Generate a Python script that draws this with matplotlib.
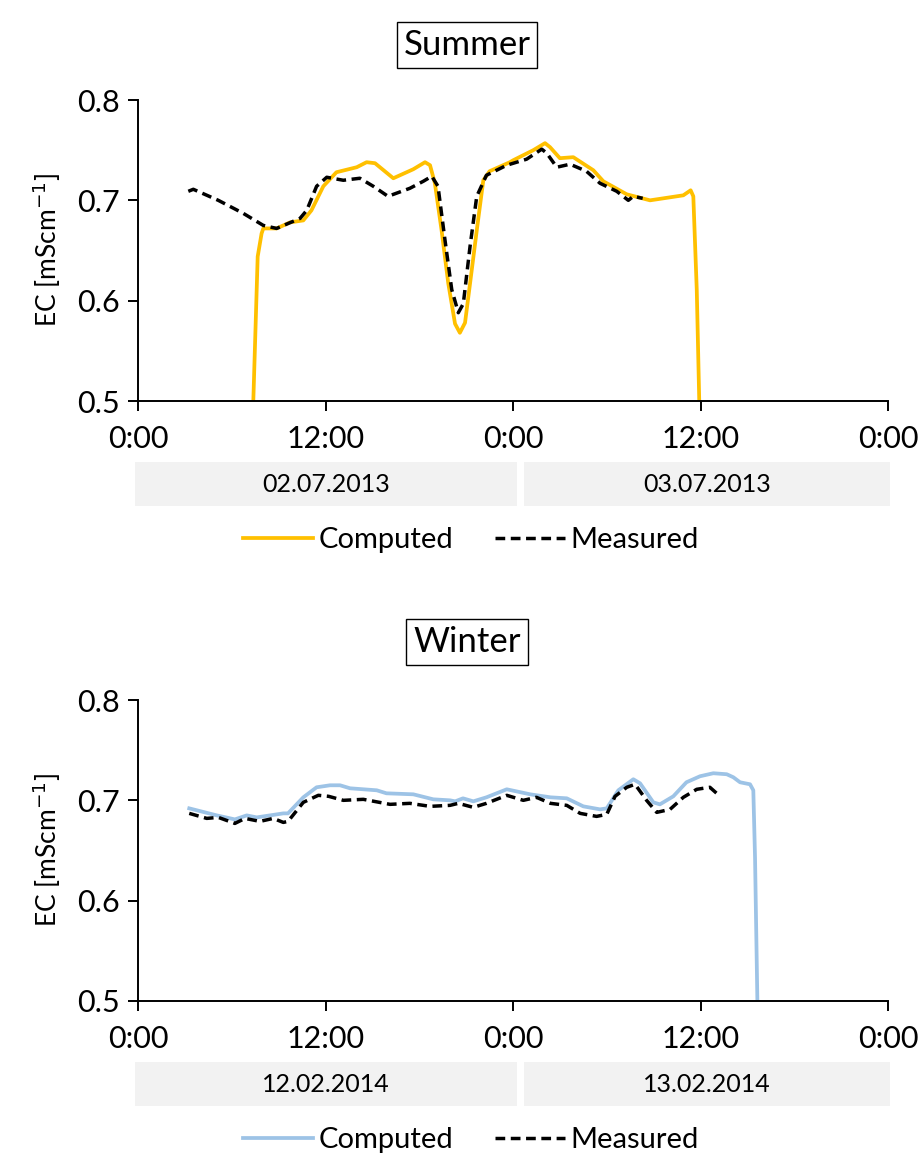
import matplotlib
matplotlib.use("Agg")
import matplotlib.pyplot as plt
from matplotlib import transforms
from matplotlib.patches import Rectangle

plt.rcParams['font.family'] = ['Lato', 'DejaVu Sans']

# hours since 0:00 of the first day, EC in mS/cm
summer_comp_h = [7.38, 7.66, 7.91, 8.02, 8.87, 9.73, 10.58, 11.1, 11.86, 12.7, 14.0, 14.63, 15.17,
                 16.34, 17.62, 18.37, 18.69, 19.0, 19.43, 19.86, 20.29, 20.6, 20.93, 21.25, 21.68,
                 22.1, 22.5, 23.8, 24.02, 25.3, 26.05, 26.37, 27.0, 27.86, 29.14, 29.78, 31.28,
                 32.77, 34.05, 34.9, 35.37, 35.54, 35.76, 35.92]
summer_comp_v = [0.500, 0.644, 0.667, 0.672, 0.672, 0.678, 0.680, 0.690, 0.714, 0.728, 0.733, 0.738, 0.737,
                 0.722, 0.731, 0.738, 0.735, 0.717, 0.670, 0.617, 0.577, 0.568, 0.578, 0.617, 0.670,
                 0.720, 0.729, 0.738, 0.740, 0.750, 0.757, 0.753, 0.742, 0.743, 0.730, 0.719, 0.706,
                 0.700, 0.703, 0.705, 0.710, 0.704, 0.611, 0.500]
summer_meas_h = [3.22, 3.54, 5.14, 6.74, 8.02, 8.87, 10.37, 10.8, 11.43, 12.08, 13.14, 14.2, 15.06,
                 16.0, 17.4, 18.26, 18.8, 19.2, 19.65, 20.08, 20.5, 20.82, 21.25, 21.68, 22.3, 23.6,
                 24.87, 25.84, 26.16, 26.8, 27.65, 28.7, 29.57, 30.64, 31.38, 31.7, 32.3]
summer_meas_v = [0.709, 0.711, 0.700, 0.687, 0.675, 0.672, 0.682, 0.690, 0.714, 0.723, 0.720, 0.722, 0.714,
                 0.704, 0.712, 0.719, 0.724, 0.714, 0.660, 0.611, 0.588, 0.597, 0.654, 0.704, 0.725, 0.735,
                 0.741, 0.751, 0.747, 0.733, 0.736, 0.729, 0.717, 0.709, 0.700, 0.704, 0.702]

winter_comp_h = [3.28, 5.04, 6.2, 6.96, 7.6, 8.45, 9.3, 9.6, 10.58, 11.43, 12.29, 12.93, 13.57, 15.28,
                 15.9, 17.62, 18.9, 19.97, 20.3, 20.8, 21.46, 22.3, 23.6, 24.2, 25.1, 26.4, 27.44, 28.5,
                 29.57, 30.0, 30.74, 31.7, 32.13, 32.98, 33.4, 34.26, 35.1, 35.97, 36.82, 37.68, 38.1,
                 38.53, 39.17, 39.38, 39.49, 39.64]
winter_comp_v = [0.692, 0.685, 0.681, 0.685, 0.683, 0.685, 0.687, 0.687, 0.703, 0.713, 0.715, 0.715, 0.712, 0.710,
                 0.707, 0.706, 0.701, 0.700, 0.699, 0.702, 0.699, 0.703, 0.711, 0.709, 0.706, 0.703, 0.702, 0.694,
                 0.691, 0.692, 0.710, 0.721, 0.717, 0.698, 0.696, 0.704, 0.718, 0.724, 0.727, 0.726, 0.723,
                 0.718, 0.716, 0.710, 0.643, 0.500]
winter_meas_h = [3.28, 4.4, 5.14, 6.2, 6.85, 7.8, 8.66, 9.3, 9.6, 10.58, 11.54, 12.2, 13.14, 14.42, 16.13,
                 17.4, 18.69, 19.97, 20.5, 21.46, 22.3, 23.6, 24.66, 25.5, 26.4, 27.44, 28.3, 29.35, 30.0,
                 30.53, 31.28, 31.81, 32.55, 33.2, 34.05, 34.9, 35.76, 36.6, 37.18]
winter_meas_v = [0.687, 0.682, 0.683, 0.677, 0.682, 0.679, 0.682, 0.678, 0.679, 0.698, 0.705, 0.704, 0.700, 0.701, 0.696,
                 0.697, 0.694, 0.695, 0.697, 0.693, 0.697, 0.705, 0.700, 0.703, 0.697, 0.695, 0.687, 0.684, 0.686,
                 0.704, 0.713, 0.716, 0.700, 0.688, 0.691, 0.703, 0.711, 0.713, 0.705]

tick_hours = [0, 12, 24, 36, 48]
tick_labels = ["0:00", "12:00", "0:00", "12:00", "0:00"]
yticks = [0.5, 0.6, 0.7, 0.8]

panels = [
    ("Summer", ["02.07.2013", "03.07.2013"], summer_comp_h, summer_comp_v,
     summer_meas_h, summer_meas_v, "#FFC000"),
    ("Winter", ["12.02.2014", "13.02.2014"], winter_comp_h, winter_comp_v,
     winter_meas_h, winter_meas_v, "#9DC3E6"),
]

W, H = 924, 1155
fig = plt.figure(figsize=(W / 100, H / 100), dpi=100)

# (axes top px, title y px, band top px, band bottom px, legend y px)
layout = [(100, 45, 462, 506, 540), (700, 642, 1062, 1106, 1140)]

for (title, days, ch, cv, mh, mv, col), (top, ty, bt, bb, ly) in zip(panels, layout):
    ax = fig.add_axes([138 / W, 1 - (top + 301) / H, 750 / W, 301 / H])
    ax.plot(ch, cv, color=col, lw=2.7, label="Computed", solid_joinstyle='round')
    ax.plot(mh, mv, color="black", lw=2.5, dashes=(2.8, 1.6), label="Measured")
    ax.set_xlim(0, 48)
    ax.set_ylim(0.5, 0.8)
    ax.set_xticks(tick_hours)
    ax.set_xticklabels(tick_labels)
    ax.set_yticks(yticks)
    ax.set_yticklabels([f"{v:.1f}" for v in yticks])
    for s in ("top", "right"):
        ax.spines[s].set_visible(False)
    for s in ("left", "bottom"):
        ax.spines[s].set_linewidth(1.4)
    ax.tick_params(axis="both", labelsize=22, width=1.4, length=7, direction="out")
    ax.tick_params(axis="x", pad=10)
    ax.tick_params(axis="y", pad=6)
    ax.set_ylabel("EC [mScm$^{-1}$]", fontsize=19, labelpad=10)

    # date bands below the axis
    tr = transforms.blended_transform_factory(ax.transData, fig.transFigure)
    y0 = 1 - bb / H
    hgt = (bb - bt) / H
    for x0, x1, d in [(-0.2, 24.25, days[0]), (24.7, 48.1, days[1])]:
        ax.add_patch(Rectangle((x0, y0), x1 - x0, hgt, transform=tr, facecolor="#F2F2F2",
                               edgecolor="none", clip_on=False))
        ax.text((x0 + x1) / 2, y0 + hgt / 2, d, transform=tr, ha="center", va="center",
                fontsize=18)

    fig.text(467 / W, 1 - ty / H, title, ha="center", va="center", fontsize=25,
             bbox=dict(boxstyle="square,pad=0.2", facecolor="white", edgecolor="black", lw=1.0))

    ax.legend(loc="center", bbox_to_anchor=(471 / W, 1 - ly / H), bbox_transform=fig.transFigure,
              ncol=2, frameon=False, fontsize=21, handlelength=2.4, handletextpad=0.2,
              columnspacing=1.4)

fig.savefig("out.png", dpi=100)
